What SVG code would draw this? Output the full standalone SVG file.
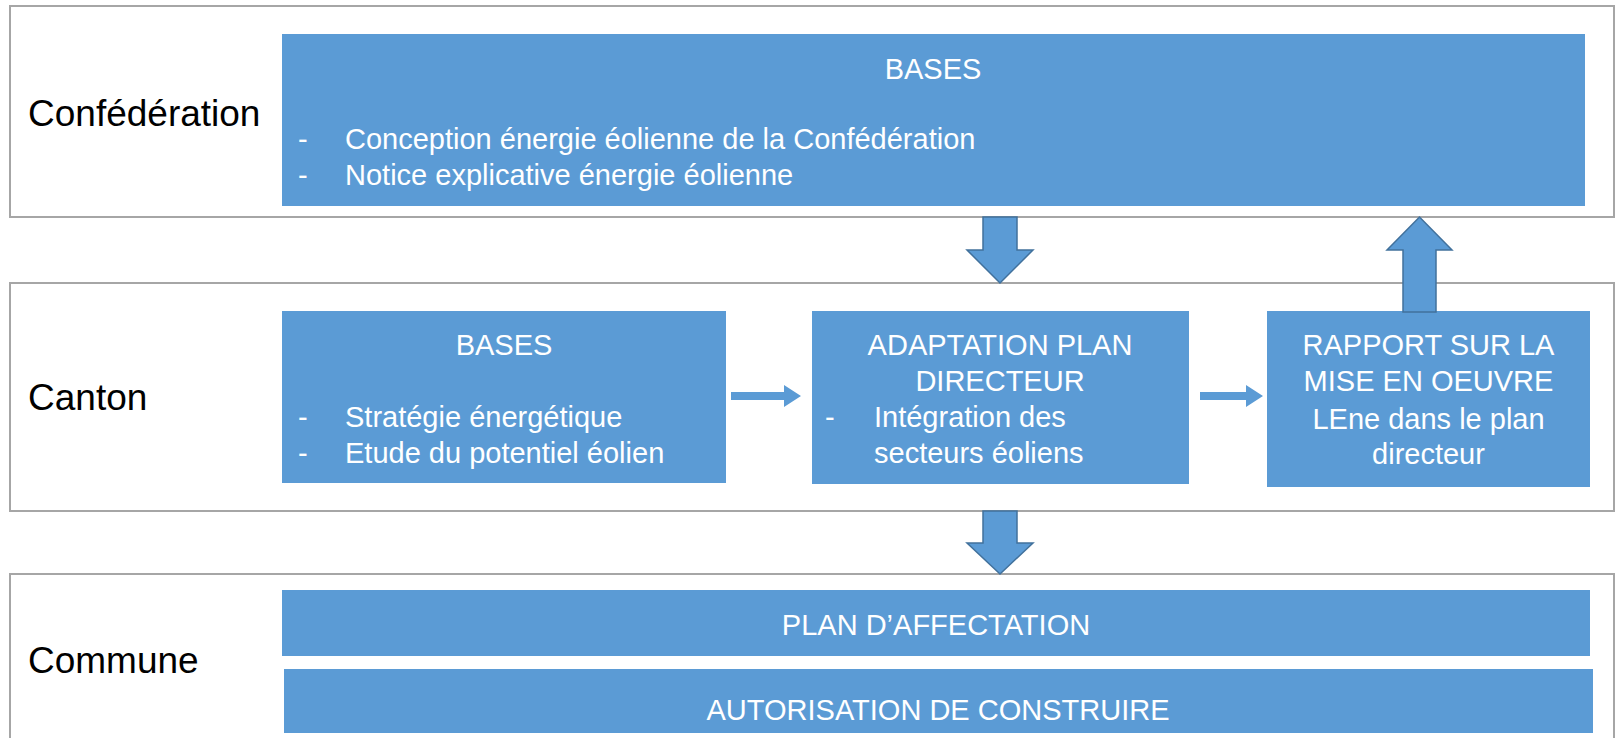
<svg xmlns="http://www.w3.org/2000/svg" width="1617" height="738" viewBox="0 0 1617 738">
<style>
.frame{fill:#fff;stroke:#a6a6a6;stroke-width:2}
.box{fill:#5b9bd5}
.lbl{font-family:"Liberation Sans",Arial,sans-serif;font-size:37px;fill:#000}
.t{font-family:"Liberation Sans",Arial,sans-serif;font-size:29px;fill:#fff}
.c{text-anchor:middle}
.blk{fill:#5b9bd5;stroke:#41719c;stroke-width:1.5}
.sm{fill:#5b9bd5}
</style>
<rect width="1617" height="738" fill="#fff"/>
<g id="frame-confederation">
<rect class="frame" x="10" y="6" width="1604" height="211"/>
<text class="lbl" x="28" y="126">Confédération</text>
</g>
<g id="frame-canton">
<rect class="frame" x="10" y="283" width="1604" height="228"/>
<text class="lbl" x="28" y="410">Canton</text>
</g>
<g id="frame-commune">
<rect class="frame" x="10" y="574" width="1604" height="180"/>
<text class="lbl" x="28" y="673">Commune</text>
</g>
<g id="confed-bases">
<rect class="box" x="282" y="34" width="1303" height="172"/>
<text class="t c" x="933" y="79">BASES</text>
<text class="t" x="298" y="149">-</text>
<text class="t" x="345" y="149">Conception énergie éolienne de la Confédération</text>
<text class="t" x="298" y="185">-</text>
<text class="t" x="345" y="185">Notice explicative énergie éolienne</text>
</g>
<g id="canton-bases">
<rect class="box" x="282" y="311" width="444" height="172"/>
<text class="t c" x="504" y="355">BASES</text>
<text class="t" x="298" y="427">-</text>
<text class="t" x="345" y="427">Stratégie énergétique</text>
<text class="t" x="298" y="463">-</text>
<text class="t" x="345" y="463">Etude du potentiel éolien</text>
</g>
<g id="adaptation">
<rect class="box" x="812" y="311" width="377" height="173"/>
<text class="t c" x="1000" y="355">ADAPTATION PLAN</text>
<text class="t c" x="1000" y="391">DIRECTEUR</text>
<text class="t" x="825" y="427">-</text>
<text class="t" x="874" y="427">Intégration des</text>
<text class="t" x="874" y="463">secteurs éoliens</text>
</g>
<g id="rapport">
<rect class="box" x="1267" y="311" width="323" height="176"/>
<text class="t c" x="1428.5" y="355">RAPPORT SUR LA</text>
<text class="t c" x="1428.5" y="391">MISE EN OEUVRE</text>
<text class="t c" x="1428.5" y="429">LEne dans le plan</text>
<text class="t c" x="1428.5" y="464">directeur</text>
</g>
<g id="plan-affectation">
<rect class="box" x="282" y="590" width="1308" height="66"/>
<text class="t c" x="936" y="635">PLAN D’AFFECTATION</text>
</g>
<g id="autorisation">
<rect class="box" x="284" y="669" width="1309" height="64"/>
<text class="t c" x="938" y="720">AUTORISATION DE CONSTRUIRE</text>
</g>
<g id="connectors">
<polygon class="blk" points="983,217 1017,217 1017,250 1033,250 1000,283 967,250 983,250"/>
<polygon class="blk" points="1403,312 1436,312 1436,250 1452,250 1419.5,217 1387,250 1403,250"/>
<polygon class="blk" points="983,511 1017,511 1017,543 1033,543 1000,574 967,543 983,543"/>
<polygon class="sm" points="731,392 784,392 784,385 801,396 784,407 784,400 731,400"/>
<polygon class="sm" points="1200,392 1246,392 1246,385 1263,396 1246,407 1246,400 1200,400"/>
</g>
</svg>
